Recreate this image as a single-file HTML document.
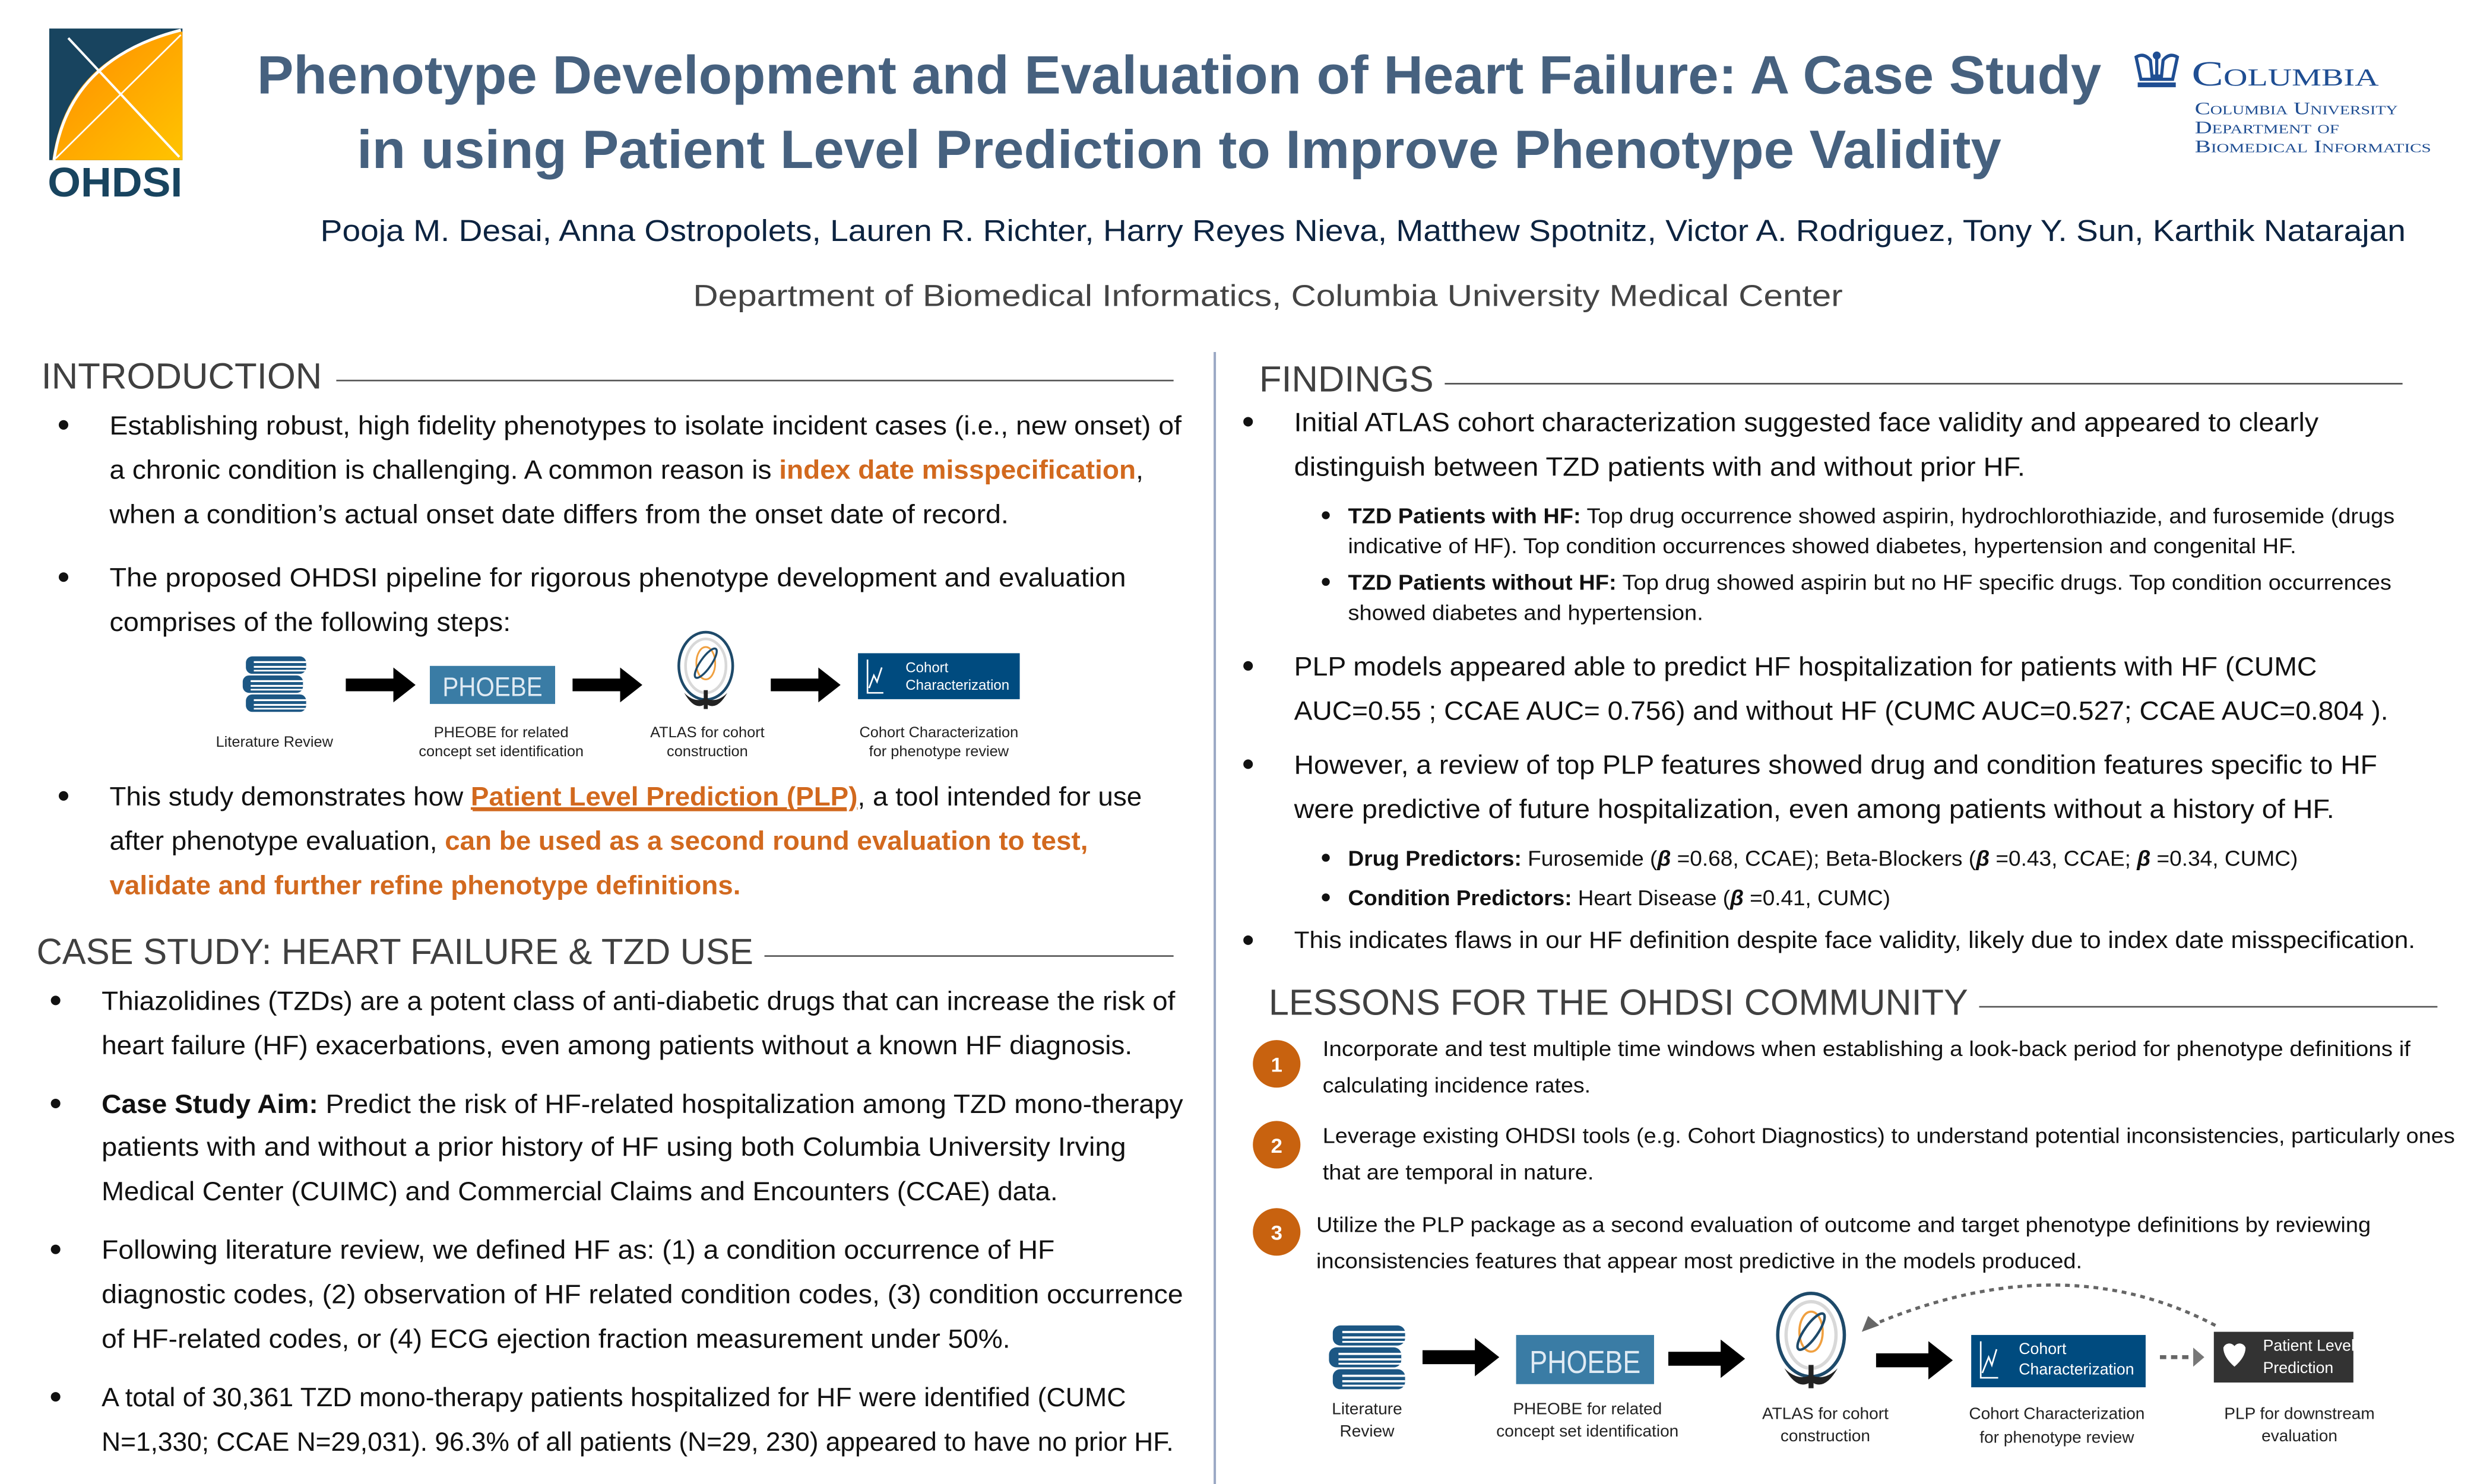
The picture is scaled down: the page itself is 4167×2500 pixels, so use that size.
<!DOCTYPE html>
<html><head><meta charset="utf-8">
<style>
html,body{margin:0;padding:0;background:#fff;}
svg{display:block;}
text{font-family:"Liberation Sans",sans-serif;}
.b{font-size:16.5px;fill:#111;}
.s{font-size:13.5px;fill:#111;}
.h{font-size:23px;fill:#404040;}
.o{fill:#d2691e;font-weight:bold;}
.lab{font-size:9.5px;fill:#222;text-anchor:middle;}
.lab2{font-size:10.5px;fill:#222;text-anchor:middle;}
.serif{font-family:"Liberation Serif",serif;}
</style></head>
<body>
<svg width="4167" height="2500" viewBox="0 0 1560 936" xmlns="http://www.w3.org/2000/svg">
<defs>
<linearGradient id="og" x1="0" y1="0" x2="1" y2="1">
<stop offset="0" stop-color="#ff8a00"/><stop offset="1" stop-color="#ffc400"/></linearGradient>
<g id="book">
<rect x="0" y="0" width="38" height="11" rx="4" fill="#1c5784"/><rect x="5" y="3" width="33" height="1.2" fill="#fff"/><rect x="5" y="6" width="33" height="1.2" fill="#fff"/><rect x="5" y="8.5" width="33" height="1" fill="#fff"/>
</g>
<g id="books">
<use href="#book" x="2" y="0"/><use href="#book" x="0" y="12"/><use href="#book" x="2" y="24"/>
</g>
<g id="atlas">
<ellipse cx="0" cy="0" rx="20" ry="25" fill="none" stroke="#1e4a6a" stroke-width="2"/>
<ellipse cx="0" cy="0" rx="15" ry="20" fill="none" stroke="#d8d8d8" stroke-width="2"/>
<ellipse cx="0" cy="-2" rx="7" ry="12" fill="none" stroke="#f0a040" stroke-width="1.3"/>
<ellipse cx="0" cy="-2" rx="4" ry="13" fill="none" stroke="#1e4a6a" stroke-width="1.5" transform="rotate(35 0 -2)"/>
<path d="M-16 20 Q-8 34 0 28 Q8 34 16 20 Q8 28 0 24 Q-8 28 -16 20Z" fill="#222"/>
<rect x="-1.5" y="18" width="3" height="14" fill="#222"/>
</g>
<g id="arr"><path d="M0 -4 H30 V-11 L44 0 L30 11 V4 H0Z" fill="#000"/></g>
</defs>
<rect width="1560" height="936" fill="#fff"/>

<!-- OHDSI logo -->
<rect x="31" y="18" width="84" height="83" fill="#18445f"/>
<path d="M33 101 Q42 35 113 20 L115 20 L115 101Z" fill="url(#og)"/>
<path d="M34 101 Q43 37 114 19" fill="none" stroke="#fff" stroke-width="1.8"/>
<line x1="43" y1="24" x2="113" y2="99" stroke="#fff" stroke-width="1.5"/>
<line x1="35" y1="100" x2="114" y2="22" stroke="#fff" stroke-width="1"/>
<text x="30" y="124" font-size="26" font-weight="bold" fill="#18445f" textLength="85" lengthAdjust="spacingAndGlyphs">OHDSI</text>

<!-- Title -->
<text x="162" y="59" font-size="34" font-weight="bold" fill="#46617f" textLength="1163" lengthAdjust="spacingAndGlyphs">Phenotype Development and Evaluation of Heart Failure: A Case Study</text>
<text x="225" y="106" font-size="34" font-weight="bold" fill="#46617f" textLength="1037" lengthAdjust="spacingAndGlyphs">in using Patient Level Prediction to Improve Phenotype Validity</text>

<!-- Columbia -->
<g fill="#1f4e93">
<path d="M1347 36 Q1352 33 1356 38 L1357 48 L1363 48 L1364 38 Q1368 33 1373 36 L1370 50 L1350 50Z" fill="none" stroke="#1f4e93" stroke-width="2"/>
<circle cx="1360" cy="35" r="2.5"/><rect x="1359" y="36" width="2" height="13"/>
<rect x="1348" y="52" width="24" height="3"/>
<text x="1382" y="54" style="font-family:'Liberation Serif',serif;font-variant:small-caps" font-size="22" textLength="118" lengthAdjust="spacingAndGlyphs">Columbia</text>
<text x="1384" y="72" style="font-family:'Liberation Serif',serif;font-variant:small-caps" font-size="11" textLength="128" lengthAdjust="spacingAndGlyphs">Columbia University</text>
<text x="1384" y="84" style="font-family:'Liberation Serif',serif;font-variant:small-caps" font-size="11" textLength="91" lengthAdjust="spacingAndGlyphs">Department of</text>
<text x="1384" y="96" style="font-family:'Liberation Serif',serif;font-variant:small-caps" font-size="11" textLength="149" lengthAdjust="spacingAndGlyphs">Biomedical Informatics</text>
</g>

<text x="202" y="152" font-size="19" fill="#0c2340" textLength="1315" lengthAdjust="spacingAndGlyphs">Pooja M. Desai, Anna Ostropolets, Lauren R. Richter, Harry Reyes Nieva, Matthew Spotnitz, Victor A. Rodriguez, Tony Y. Sun, Karthik Natarajan</text>
<text x="437" y="193" font-size="19" fill="#444" textLength="725" lengthAdjust="spacingAndGlyphs">Department of Biomedical Informatics, Columbia University Medical Center</text>

<!-- divider -->
<line x1="766" y1="222" x2="766" y2="940" stroke="#9aa8c4" stroke-width="1.5"/>

<!-- INTRODUCTION -->
<text x="26" y="245" class="h" textLength="177" lengthAdjust="spacingAndGlyphs">INTRODUCTION</text>
<line x1="212" y1="240" x2="740" y2="240" stroke="#555" stroke-width="1"/>
<g fill="#111">
<circle cx="40" cy="268" r="3"/><circle cx="40" cy="364" r="3"/><circle cx="40" cy="502" r="3"/>
<circle cx="35" cy="631" r="3"/><circle cx="35" cy="696" r="3"/><circle cx="35" cy="788" r="3"/><circle cx="35" cy="881" r="3"/>
<circle cx="787" cy="266" r="3"/><circle cx="787" cy="420" r="3"/><circle cx="787" cy="482" r="3"/><circle cx="787" cy="593" r="3"/>
<circle cx="836" cy="325" r="2.5"/><circle cx="836" cy="367" r="2.5"/><circle cx="836" cy="541" r="2.5"/><circle cx="836" cy="566" r="2.5"/>
</g>
<text x="69" y="274" class="b" textLength="676" lengthAdjust="spacingAndGlyphs">Establishing robust, high fidelity phenotypes to isolate incident cases (i.e., new onset) of</text>
<text x="69" y="302" class="b" textLength="652" lengthAdjust="spacingAndGlyphs">a chronic condition is challenging. A common reason is <tspan class="o">index date misspecification</tspan>,</text>
<text x="69" y="330" class="b" textLength="567" lengthAdjust="spacingAndGlyphs">when a condition’s actual onset date differs from the onset date of record.</text>
<text x="69" y="370" class="b" textLength="641" lengthAdjust="spacingAndGlyphs">The proposed OHDSI pipeline for rigorous phenotype development and evaluation</text>
<text x="69" y="398" class="b" textLength="253" lengthAdjust="spacingAndGlyphs">comprises of the following steps:</text>
<text x="69" y="508" class="b" textLength="651" lengthAdjust="spacingAndGlyphs">This study demonstrates how <tspan class="o" text-decoration="underline">Patient Level Prediction (PLP)</tspan>, a tool intended for use</text>
<line x1="298" y1="511" x2="534" y2="511" stroke="#d2691e" stroke-width="1.3"/>
<text x="69" y="536" class="b" textLength="617" lengthAdjust="spacingAndGlyphs">after phenotype evaluation, <tspan class="o">can be used as a second round evaluation to test,</tspan></text>
<text x="69" y="564" class="b o" textLength="398" lengthAdjust="spacingAndGlyphs">validate and further refine phenotype definitions.</text>

<!-- flow 1 -->
<use href="#books" x="153" y="414"/>
<use href="#arr" x="218" y="432"/>
<rect x="271" y="420" width="79" height="24" fill="#3a7ca5"/>
<text x="310.5" y="439" font-size="17" fill="#dfeaf3" text-anchor="middle" textLength="63" lengthAdjust="spacingAndGlyphs">PHOEBE</text>
<use href="#arr" x="361" y="432"/>
<use href="#atlas" transform="translate(445 420) scale(0.85)"/>
<use href="#arr" x="486" y="432"/>
<rect x="541" y="412" width="102" height="29" fill="#004b7f"/>
<path d="M547 416 V437 H557 M548 434 L551 426 L553 430 L556 421" fill="none" stroke="#fff" stroke-width="1"/>
<text x="571" y="424" font-size="9" fill="#fff">Cohort</text>
<text x="571" y="435" font-size="9" fill="#fff">Characterization</text>
<text x="173" y="471" class="lab">Literature Review</text>
<text x="316" y="465" class="lab">PHEOBE for related</text>
<text x="316" y="477" class="lab">concept set identification</text>
<text x="446" y="465" class="lab">ATLAS for cohort</text>
<text x="446" y="477" class="lab">construction</text>
<text x="592" y="465" class="lab">Cohort Characterization</text>
<text x="592" y="477" class="lab">for phenotype review</text>

<!-- CASE STUDY -->
<text x="23" y="608" class="h" textLength="452" lengthAdjust="spacingAndGlyphs">CASE STUDY: HEART FAILURE &amp; TZD USE</text>
<line x1="482" y1="603" x2="740" y2="603" stroke="#555" stroke-width="1"/>
<text x="64" y="637" class="b" textLength="677" lengthAdjust="spacingAndGlyphs">Thiazolidines (TZDs) are a potent class of anti-diabetic drugs that can increase the risk of</text>
<text x="64" y="665" class="b" textLength="650" lengthAdjust="spacingAndGlyphs">heart failure (HF) exacerbations, even among patients without a known HF diagnosis.</text>
<text x="64" y="702" class="b" textLength="682" lengthAdjust="spacingAndGlyphs"><tspan font-weight="bold">Case Study Aim:</tspan> Predict the risk of HF-related hospitalization among TZD mono-therapy</text>
<text x="64" y="729" class="b" textLength="646" lengthAdjust="spacingAndGlyphs">patients with and without a prior history of HF using both Columbia University Irving</text>
<text x="64" y="757" class="b" textLength="603" lengthAdjust="spacingAndGlyphs">Medical Center (CUIMC) and Commercial Claims and Encounters (CCAE) data.</text>
<text x="64" y="794" class="b" textLength="601" lengthAdjust="spacingAndGlyphs">Following literature review, we defined HF as: (1) a condition occurrence of HF</text>
<text x="64" y="822" class="b" textLength="682" lengthAdjust="spacingAndGlyphs">diagnostic codes, (2) observation of HF related condition codes, (3) condition occurrence</text>
<text x="64" y="850" class="b" textLength="573" lengthAdjust="spacingAndGlyphs">of HF-related codes, or (4) ECG ejection fraction measurement under 50%.</text>
<text x="64" y="887" class="b" textLength="646" lengthAdjust="spacingAndGlyphs">A total of 30,361 TZD mono-therapy patients hospitalized for HF were identified (CUMC</text>
<text x="64" y="915" class="b" textLength="676" lengthAdjust="spacingAndGlyphs">N=1,330; CCAE N=29,031). 96.3% of all patients (N=29, 230) appeared to have no prior HF.</text>

<!-- FINDINGS -->
<text x="794" y="247" class="h" textLength="110" lengthAdjust="spacingAndGlyphs">FINDINGS</text>
<line x1="911" y1="242" x2="1515" y2="242" stroke="#555" stroke-width="1"/>
<text x="816" y="272" class="b" textLength="646" lengthAdjust="spacingAndGlyphs">Initial ATLAS cohort characterization suggested face validity and appeared to clearly</text>
<text x="816" y="300" class="b" textLength="461" lengthAdjust="spacingAndGlyphs">distinguish between TZD patients with and without prior HF.</text>
<text x="850" y="330" class="s" textLength="660" lengthAdjust="spacingAndGlyphs"><tspan font-weight="bold">TZD Patients with HF:</tspan> Top drug occurrence showed aspirin, hydrochlorothiazide, and furosemide (drugs</text>
<text x="850" y="349" class="s" textLength="598" lengthAdjust="spacingAndGlyphs">indicative of HF). Top condition occurrences showed diabetes, hypertension and congenital HF.</text>
<text x="850" y="372" class="s" textLength="658" lengthAdjust="spacingAndGlyphs"><tspan font-weight="bold">TZD Patients without HF:</tspan> Top drug showed aspirin but no HF specific drugs. Top condition occurrences</text>
<text x="850" y="391" class="s" textLength="224" lengthAdjust="spacingAndGlyphs">showed diabetes and hypertension.</text>
<text x="816" y="426" class="b" textLength="645" lengthAdjust="spacingAndGlyphs">PLP models appeared able to predict HF hospitalization for patients with HF (CUMC</text>
<text x="816" y="454" class="b" textLength="690" lengthAdjust="spacingAndGlyphs">AUC=0.55 ; CCAE AUC= 0.756) and without HF (CUMC AUC=0.527; CCAE AUC=0.804 ).</text>
<text x="816" y="488" class="b" textLength="683" lengthAdjust="spacingAndGlyphs">However, a review of top PLP features showed drug and condition features specific to HF</text>
<text x="816" y="516" class="b" textLength="656" lengthAdjust="spacingAndGlyphs">were predictive of future hospitalization, even among patients without a history of HF.</text>
<text x="850" y="546" class="s" textLength="599" lengthAdjust="spacingAndGlyphs"><tspan font-weight="bold">Drug Predictors:</tspan> Furosemide (<tspan font-style="italic" font-weight="bold">β</tspan> =0.68, CCAE); Beta-Blockers (<tspan font-style="italic" font-weight="bold">β</tspan> =0.43, CCAE; <tspan font-style="italic" font-weight="bold">β</tspan> =0.34, CUMC)</text>
<text x="850" y="571" class="s" textLength="342" lengthAdjust="spacingAndGlyphs"><tspan font-weight="bold">Condition Predictors:</tspan> Heart Disease (<tspan font-style="italic" font-weight="bold">β</tspan> =0.41, CUMC)</text>
<text x="816" y="598" font-size="15" fill="#111" textLength="707" lengthAdjust="spacingAndGlyphs">This indicates flaws in our HF definition despite face validity, likely due to index date misspecification.</text>

<!-- LESSONS -->
<text x="800" y="640" class="h" textLength="441" lengthAdjust="spacingAndGlyphs">LESSONS FOR THE OHDSI COMMUNITY</text>
<line x1="1248" y1="635" x2="1537" y2="635" stroke="#555" stroke-width="1"/>
<g fill="#c8620f"><circle cx="805" cy="671" r="15"/><circle cx="805" cy="722" r="15"/><circle cx="805" cy="777" r="15"/></g>
<g font-size="13" font-weight="bold" fill="#fff" text-anchor="middle"><text x="805" y="676">1</text><text x="805" y="727">2</text><text x="805" y="782">3</text></g>
<text x="834" y="666" class="s" textLength="686" lengthAdjust="spacingAndGlyphs">Incorporate and test multiple time windows when establishing a look-back period for phenotype definitions if</text>
<text x="834" y="689" class="s" textLength="169" lengthAdjust="spacingAndGlyphs">calculating incidence rates.</text>
<text x="834" y="721" class="s" textLength="714" lengthAdjust="spacingAndGlyphs">Leverage existing OHDSI tools (e.g. Cohort Diagnostics) to understand potential inconsistencies, particularly ones</text>
<text x="834" y="744" class="s" textLength="171" lengthAdjust="spacingAndGlyphs">that are temporal in nature.</text>
<text x="830" y="777" class="s" textLength="665" lengthAdjust="spacingAndGlyphs">Utilize the PLP package as a second evaluation of outcome and target phenotype definitions by reviewing</text>
<text x="830" y="800" class="s" textLength="483" lengthAdjust="spacingAndGlyphs">inconsistencies features that appear most predictive in the models produced.</text>

<!-- flow 2 -->
<use href="#books" transform="translate(838 836) scale(1.2 1.15)"/>
<use href="#arr" transform="translate(897 856) scale(1.1)"/>
<rect x="956" y="842" width="87" height="31" fill="#3a7ca5"/>
<text x="999.5" y="866" font-size="20" fill="#dfeaf3" text-anchor="middle" textLength="70" lengthAdjust="spacingAndGlyphs">PHOEBE</text>
<use href="#arr" transform="translate(1052 857) scale(1.1)"/>
<use href="#atlas" transform="translate(1142 842) scale(1.05)"/>
<use href="#arr" transform="translate(1183 858) scale(1.1)"/>
<rect x="1243" y="842" width="110" height="33" fill="#004b7f"/>
<path d="M1249 846 V869 H1260 M1250 866 L1254 856 L1256 861 L1259 851" fill="none" stroke="#fff" stroke-width="1"/>
<text x="1273" y="854" font-size="10" fill="#fff">Cohort</text>
<text x="1273" y="867" font-size="10" fill="#fff">Characterization</text>
<line x1="1362" y1="856" x2="1380" y2="856" stroke="#666" stroke-width="2.5" stroke-dasharray="4 3"/>
<path d="M1383 850 L1390 856 L1383 862Z" fill="#777"/>
<rect x="1396" y="840" width="88" height="32" fill="#333"/>
<path d="M1402 850 a4 4 0 0 1 7 -1 a4 4 0 0 1 7 1 q0 6 -7 12 q-7 -6 -7 -12z" fill="#fff"/>
<text x="1427" y="852" font-size="10" fill="#fff">Patient Level</text>
<text x="1427" y="866" font-size="10" fill="#fff">Prediction</text>
<path d="M1397 836 Q1300 785 1180 836" fill="none" stroke="#666" stroke-width="2" stroke-dasharray="3 3"/>
<path d="M1174 840 L1178 830 L1185 836Z" fill="#666"/>
<text x="862" y="892" class="lab2">Literature</text>
<text x="862" y="906" class="lab2">Review</text>
<text x="1001" y="892" class="lab2">PHEOBE for related</text>
<text x="1001" y="906" class="lab2">concept set identification</text>
<text x="1151" y="895" class="lab2">ATLAS for cohort</text>
<text x="1151" y="909" class="lab2">construction</text>
<text x="1297" y="895" class="lab2">Cohort Characterization</text>
<text x="1297" y="910" class="lab2">for phenotype review</text>
<text x="1450" y="895" class="lab2">PLP for downstream</text>
<text x="1450" y="909" class="lab2">evaluation</text>
</svg>
</body></html>
